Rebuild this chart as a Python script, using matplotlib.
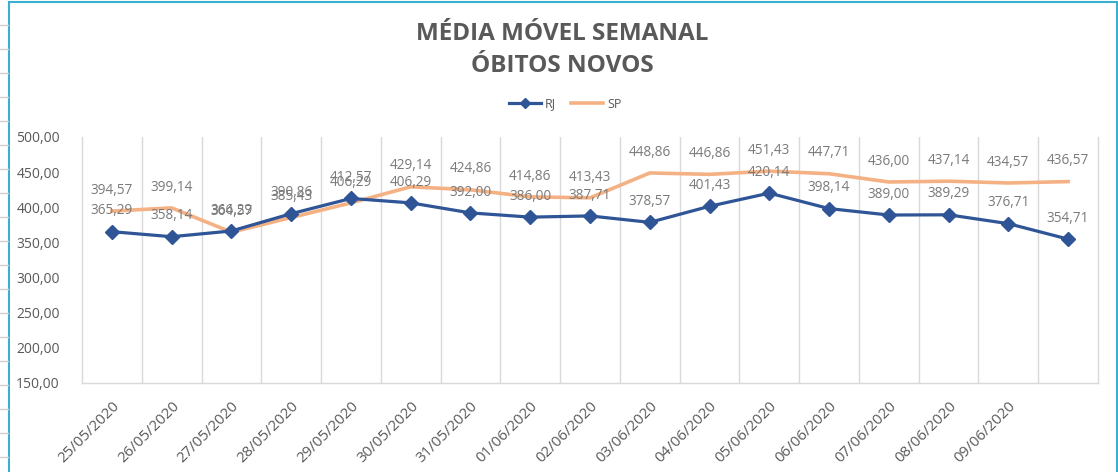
import matplotlib
matplotlib.use("Agg")
import matplotlib.pyplot as plt
from matplotlib.lines import Line2D
from matplotlib.patches import Rectangle

datas = ["25/05/2020", "26/05/2020", "27/05/2020", "28/05/2020", "29/05/2020",
         "30/05/2020", "31/05/2020", "01/06/2020", "02/06/2020", "03/06/2020",
         "04/06/2020", "05/06/2020", "06/06/2020", "07/06/2020", "08/06/2020",
         "09/06/2020", ""]
rj = [365.29, 358.14, 366.29, 390.86, 412.57, 406.29, 392.00, 386.00, 387.71,
      378.57, 401.43, 420.14, 398.14, 389.00, 389.29, 376.71, 354.71]
sp = [394.57, 399.14, 364.57, 385.43, 406.29, 429.14, 424.86, 414.86, 413.43,
      448.86, 446.86, 451.43, 447.71, 436.00, 437.14, 434.57, 436.57]
yticks = [150, 200, 250, 300, 350, 400, 450, 500]

cor_rj = "#2F5597"
cor_sp = "#F4B183"
cinza = "#595959"

def br(v):
    return f"{v:.2f}".replace(".", ",")

plt.rcParams["font.family"] = ["Open Sans", "DejaVu Sans"]

fig = plt.figure(figsize=(11.18, 4.72), dpi=100)
ax = fig.add_axes([82/1118, 1-383/472, 1016/1118, 246/472])

x = list(range(len(rj)))
ax.plot(x, sp, color=cor_sp, lw=2.6, solid_joinstyle="round", label="SP", zorder=2)
ax.plot(x, rj, color=cor_rj, lw=2.3, marker="D", ms=7, label="RJ", zorder=3)

for i in x:
    ax.annotate(br(sp[i]), (i, sp[i]), xytext=(0, 15), textcoords="offset points",
                ha="center", va="center", fontsize=9.8, color="#7a7a7a")
    ax.annotate(br(rj[i]), (i, rj[i]), xytext=(0, 15), textcoords="offset points",
                ha="center", va="center", fontsize=9.8, color="#7a7a7a")

ax.set_xlim(-0.5, len(rj) - 0.5)
ax.set_ylim(150, 500)
ax.set_yticks(yticks)
ax.set_yticklabels([br(v) for v in yticks], fontsize=10, color=cinza)
ax.set_xticks(x)
ax.set_xticklabels(datas, rotation=45, ha="right", va="top",
                   rotation_mode="anchor", fontsize=10.8, color=cinza)
ax.tick_params(axis="both", length=0)
ax.tick_params(axis="x", pad=11)
ax.tick_params(axis="y", pad=16)

for b in [i + 0.5 for i in x[:-1]]:
    ax.axvline(b, color="#d9d9d9", lw=1, zorder=0)
ax.spines["top"].set_visible(False)
for s in ["left", "right", "bottom"]:
    ax.spines[s].set_color("#d9d9d9")
    ax.spines[s].set_linewidth(1)

fig.text(0.503, 1-40/472, "MÉDIA MÓVEL SEMANAL", ha="center", va="baseline",
         fontsize=17.5, fontweight="bold", color=cinza)
fig.text(0.503, 1-72/472, "ÓBITOS NOVOS", ha="center", va="baseline",
         fontsize=17.5, fontweight="bold", color=cinza)

handles = [Line2D([], [], color=cor_rj, lw=2.3, marker="D", ms=5),
           Line2D([], [], color=cor_sp, lw=2.6)]
fig.legend(handles, ["RJ", "SP"], loc="center", bbox_to_anchor=(565/1118, 1-104/472),
           ncol=2, frameon=False, fontsize=9, handlelength=2.6, columnspacing=1.2,
           handletextpad=0.3, labelcolor=cinza)

# borda do grafico e linhas das celulas do excel
fig.add_artist(Rectangle((9/1118, -0.1), (1116.5-9)/1118, 1.1 - 1.5/472,
                         transform=fig.transFigure, fill=False,
                         edgecolor="#3AAFCF", lw=1.5))
for yy in range(25, 472, 24):
    fig.add_artist(Line2D([0, 8/1118], [1-yy/472, 1-yy/472],
                          transform=fig.transFigure, color="#d0d0d0", lw=1))

fig.savefig("out.png", dpi=100)
